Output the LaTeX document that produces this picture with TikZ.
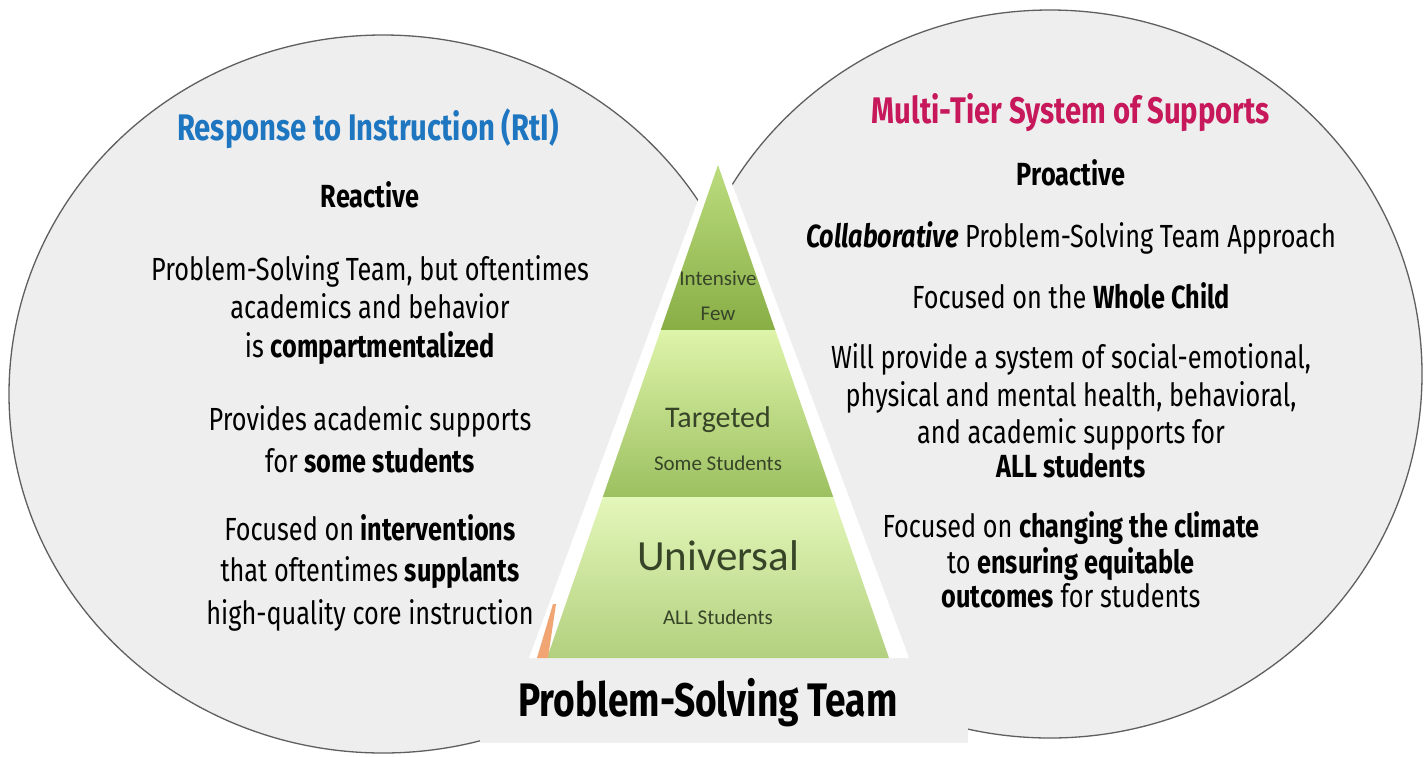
\documentclass[tikz,border=0pt]{standalone}
\usepackage{fontspec}
\setmainfont{Fira Sans}[FakeStretch=0.79]
\newfontfamily\tierfont{Carlito}

\definecolor{disc}{RGB}{238,238,238}
\definecolor{rim}{RGB}{95,95,95}
\definecolor{rtiblue}{RGB}{30,118,192}
\definecolor{mtssred}{RGB}{198,24,90}
\definecolor{tiertext}{RGB}{55,68,40}
\definecolor{topA}{RGB}{188,220,126}
\definecolor{topB}{RGB}{136,174,70}
\definecolor{midA}{RGB}{222,244,170}
\definecolor{midB}{RGB}{156,192,96}
\definecolor{lowA}{RGB}{228,247,186}
\definecolor{lowB}{RGB}{178,208,126}
\definecolor{sliver}{RGB}{240,165,115}

\tikzset{
  body/.style={font=\fontsize{32}{36}\selectfont, anchor=base, inner sep=0pt, text=black},
  heading/.style={font=\fontsize{37}{42}\selectfont\bfseries, anchor=base, inner sep=0pt},
  tierlabel/.style={text=tiertext, anchor=base, inner sep=0pt},
}

\begin{document}
\begin{tikzpicture}[x=1pt,y=-1pt]
\useasboundingbox (0,0) rectangle (1427,756);
\fill[white] (0,0) rectangle (1427,756);

% the two discs
\filldraw[fill=disc, draw=rim, line width=1.3pt] (383,394) ellipse [x radius=374, y radius=359];
\filldraw[fill=disc, draw=rim, line width=1.3pt] (1050,374) ellipse [x radius=372, y radius=364];

% panel under the pyramid
\fill[disc] (480,655) rectangle (968,743);

% pyramid: white rim, then the three tiers
\fill[white] (718,146) -- (529,658) -- (909,658) -- cycle;
\shade[top color=topA, bottom color=topB] (718,165) -- (660.8,330) -- (775.2,330) -- cycle;
\shade[top color=midA, bottom color=midB] (660.8,330) -- (775.2,330) -- (833.2,497) -- (602.8,497) -- cycle;
\shade[top color=lowA, bottom color=lowB] (602.8,497) -- (833.2,497) -- (889,658) -- (547,658) -- cycle;
\fill[sliver] (537,658) -- (548,658) -- (556,604) -- (553,604) -- cycle;

% tier labels
\node[tierlabel, font=\tierfont\fontsize{21}{24}\selectfont] (intensive) at (718,285) {Intensive};
\node[tierlabel, font=\tierfont\fontsize{21}{24}\selectfont] (few) at (718,320) {Few};
\node[tierlabel, font=\tierfont\fontsize{30}{34}\selectfont] (targeted) at (718,427) {Targeted};
\node[tierlabel, font=\tierfont\fontsize{21}{24}\selectfont] (some) at (718,470) {Some Students};
\node[tierlabel, font=\tierfont\fontsize{43}{48}\selectfont] (universal) at (718,570) {Universal};
\node[tierlabel, font=\tierfont\fontsize{21}{24}\selectfont] (allst) at (718,624) {ALL Students};

% left disc: RtI
\node[heading, text=rtiblue] (rti) at (368,140) {Response to Instruction (RtI)};
\node[body] (l1) at (370,207) {\textbf{Reactive}};
\node[body] (l2) at (370,280) {Problem-Solving Team, but oftentimes};
\node[body] (l3) at (370,318) {academics and behavior};
\node[body] (l4) at (370,357) {is \textbf{compartmentalized}};
\node[body] (l5) at (370,430) {Provides academic supports};
\node[body] (l6) at (370,472) {for \textbf{some students}};
\node[body] (l7) at (370,540) {Focused on \textbf{interventions}};
\node[body] (l8) at (370,581) {that oftentimes \textbf{supplants}};
\node[body] (l9) at (370,624) {high-quality core instruction};

% right disc: MTSS
\node[heading, text=mtssred] (mtss) at (1071,123) {Multi-Tier System of Supports};
\node[body] (r1) at (1071,185) {\textbf{Proactive}};
\node[body] (r2) at (1071,247) {\textbf{\itshape Collaborative} Problem-Solving Team Approach};
\node[body] (r3) at (1071,308) {Focused on the \textbf{Whole Child}};
\node[body] (r4) at (1071,368) {Will provide a system of social-emotional,};
\node[body] (r5) at (1071,406) {physical and mental health, behavioral,};
\node[body] (r6) at (1071,443) {and academic supports for};
\node[body] (r7) at (1071,477) {\textbf{ALL students}};
\node[body] (r8) at (1071,537) {Focused on \textbf{changing the climate}};
\node[body] (r9) at (1071,573) {to \textbf{ensuring equitable}};
\node[body] (r10) at (1071,607) {\textbf{outcomes} for students};

% caption under the pyramid
\node[font=\fontsize{47}{52}\selectfont\bfseries, anchor=base, inner sep=0pt] (pst) at (708,716) {Problem-Solving Team};
\end{tikzpicture}
\end{document}
